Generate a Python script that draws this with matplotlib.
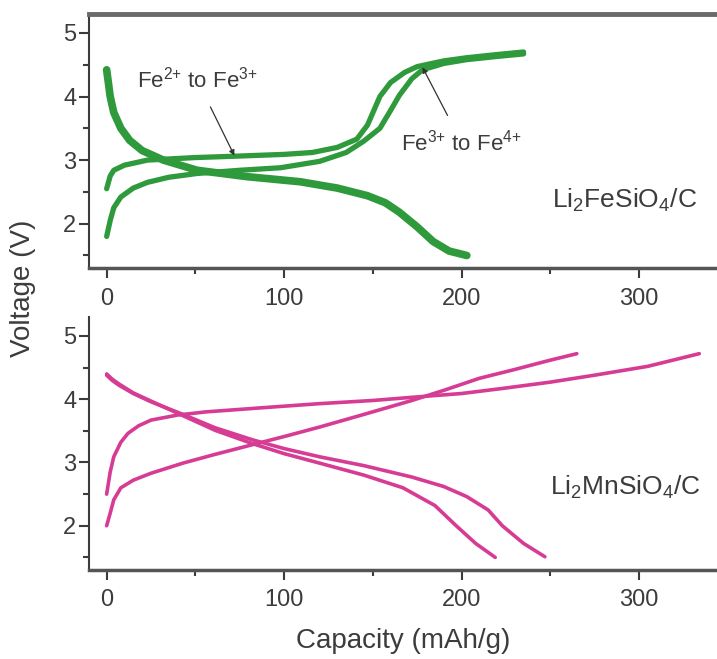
import matplotlib.pyplot as plt
from matplotlib.ticker import MultipleLocator

plt.rcParams['font.family'] = ['Liberation Sans', 'DejaVu Sans']
plt.rcParams['mathtext.fontset'] = 'custom'
plt.rcParams['mathtext.rm'] = 'Liberation Sans'
plt.rcParams['mathtext.it'] = 'Liberation Sans'
plt.rcParams['mathtext.default'] = 'rm'

# Li2FeSiO4/C  (top panel)
fe_dis_x = [0, 2, 4, 8, 13, 20, 32, 51, 79, 109, 130, 147, 157, 165, 175, 184, 193, 203]
fe_dis_v = [4.42, 4.0, 3.75, 3.5, 3.31, 3.15, 3.0, 2.84, 2.74, 2.66, 2.56, 2.44, 2.33, 2.18, 1.95, 1.72, 1.57, 1.5]
fe_ch1_x = [0, 2, 4, 10, 23, 50, 71, 100, 116, 130, 141, 147, 154, 160, 168, 175, 190, 203, 220, 235]
fe_ch1_v = [2.55, 2.75, 2.84, 2.92, 3.0, 3.04, 3.06, 3.09, 3.12, 3.2, 3.33, 3.55, 4.0, 4.22, 4.38, 4.47, 4.56, 4.61, 4.66, 4.7]
fe_ch2_x = [0, 2, 4, 8, 15, 23, 35, 51, 75, 98, 120, 135, 145, 154, 160, 165, 172, 178, 190, 203, 220, 235]
fe_ch2_v = [1.8, 2.05, 2.25, 2.42, 2.56, 2.65, 2.73, 2.79, 2.84, 2.88, 2.98, 3.12, 3.3, 3.5, 3.78, 4.02, 4.28, 4.42, 4.52, 4.58, 4.63, 4.67]

# Li2MnSiO4/C  (bottom panel)
mn_dis1_x = [0, 3, 7, 15, 25, 43, 61, 82, 100, 120, 145, 167, 185, 197, 208, 219]
mn_dis1_v = [4.4, 4.32, 4.24, 4.1, 3.97, 3.74, 3.51, 3.3, 3.14, 2.99, 2.8, 2.6, 2.32, 2.0, 1.72, 1.5]
mn_dis2_x = [0, 3, 7, 15, 25, 43, 61, 82, 100, 120, 145, 172, 190, 203, 215, 223, 235, 247]
mn_dis2_v = [4.38, 4.3, 4.22, 4.09, 3.96, 3.76, 3.55, 3.36, 3.22, 3.09, 2.95, 2.77, 2.62, 2.46, 2.25, 2.0, 1.72, 1.51]
mn_ch1_x = [0, 2, 4, 8, 12, 18, 25, 40, 56, 90, 120, 150, 172, 200, 223, 250, 275, 305, 334]
mn_ch1_v = [2.5, 2.85, 3.09, 3.32, 3.46, 3.58, 3.67, 3.75, 3.8, 3.87, 3.93, 3.98, 4.03, 4.09, 4.17, 4.27, 4.38, 4.52, 4.72]
mn_ch2_x = [0, 2, 4, 8, 15, 25, 43, 60, 82, 100, 120, 145, 172, 190, 210, 230, 249, 265]
mn_ch2_v = [2.0, 2.2, 2.41, 2.6, 2.72, 2.83, 2.99, 3.12, 3.28, 3.41, 3.56, 3.76, 3.98, 4.14, 4.33, 4.47, 4.61, 4.72]

x_ticks = [0, 100, 200, 300]
y_ticks = [2, 3, 4, 5]

green = '#2f9a3c'
magenta = '#d63c94'
txt = '#3c3c3c'

fig = plt.figure(figsize=(7.17, 6.59), dpi=100)
ax1 = fig.add_axes([0.124, 0.593, 0.876, 0.386])
ax2 = fig.add_axes([0.124, 0.135, 0.876, 0.384])

ax1.plot(fe_dis_x, fe_dis_v, color=green, lw=5.5, solid_capstyle='round')
ax1.plot(fe_ch1_x, fe_ch1_v, color=green, lw=3.8, solid_capstyle='round')
ax1.plot(fe_ch2_x, fe_ch2_v, color=green, lw=3.8, solid_capstyle='round')

ax2.plot(mn_dis1_x, mn_dis1_v, color=magenta, lw=2.6, solid_capstyle='round')
ax2.plot(mn_dis2_x, mn_dis2_v, color=magenta, lw=2.6, solid_capstyle='round')
ax2.plot(mn_ch1_x, mn_ch1_v, color=magenta, lw=2.6, solid_capstyle='round')
ax2.plot(mn_ch2_x, mn_ch2_v, color=magenta, lw=2.6, solid_capstyle='round')

for ax in (ax1, ax2):
    ax.set_xlim(-10, 344)
    ax.set_ylim(1.3, 5.3)
    ax.set_xticks(x_ticks)
    ax.set_yticks(y_ticks)
    ax.xaxis.set_minor_locator(MultipleLocator(50))
    ax.yaxis.set_minor_locator(MultipleLocator(0.5))
    ax.tick_params(which='major', direction='out', length=7, width=1.5, color=txt,
                   labelsize=17, labelcolor=txt)
    ax.tick_params(which='minor', direction='out', length=4, width=1.5, color=txt)
    ax.tick_params(axis='x', pad=7)
    ax.tick_params(axis='y', pad=2)
    ax.spines['left'].set_linewidth(1.5)
    ax.spines['left'].set_color(txt)
    ax.spines['bottom'].set_linewidth(2.5)
    ax.spines['bottom'].set_color('#555555')
    ax.spines['right'].set_visible(False)

ax1.spines['top'].set_linewidth(3.5)
ax1.spines['top'].set_color('#6a6a6a')
ax2.spines['top'].set_visible(False)

ax1.text(251, 2.36, r'Li$_2$FeSiO$_4$/C', fontsize=19, color=txt, va='center')
ax2.text(250, 2.61, r'Li$_2$MnSiO$_4$/C', fontsize=19, color=txt, va='center')

ax1.annotate(r'Fe$^{2{+}}$ to Fe$^{3{+}}$', xy=(72, 3.07), xytext=(51, 4.26),
             fontsize=16, color=txt, ha='center', va='center',
             arrowprops=dict(arrowstyle='-|>', color='#333333', lw=0.9,
                             shrinkA=9, shrinkB=0, mutation_scale=8))
ax1.annotate(r'Fe$^{3{+}}$ to Fe$^{4{+}}$', xy=(178, 4.46), xytext=(200, 3.28),
             fontsize=16, color=txt, ha='center', va='center',
             arrowprops=dict(arrowstyle='-|>', color='#333333', lw=0.9,
                             shrinkA=9, shrinkB=0, mutation_scale=8))

fig.text(0.032, 0.563, 'Voltage (V)', rotation=90, fontsize=20, color=txt,
         ha='center', va='center')
fig.text(0.562, 0.028, 'Capacity (mAh/g)', fontsize=20, color=txt,
         ha='center', va='center')

fig.savefig('out.png', dpi=100)
